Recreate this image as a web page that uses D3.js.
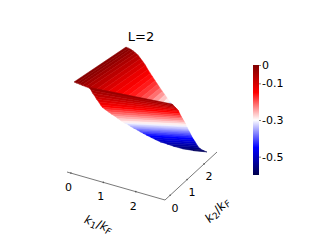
<!DOCTYPE html>
<html>
<head>
<meta charset="utf-8">
<script src="https://cdn.jsdelivr.net/npm/d3@7"></script>
<style>
  html, body { margin: 0; padding: 0; background: #fff; }
  svg { display: block; }
  text { font-family: "DejaVu Sans", sans-serif; fill: #000; }
</style>
</head>
<body>
<div id="chart"></div>
<script>
var width = 323, height = 242;

// back of the surface: stripes at constant k1, from the fold up to the far edge
var backK1 = [0, .075, .15, .225, .3, .375, .45, .525, .6, .675, .75, .825, .9, .975, 1.05, 1.125, 1.2, 1.275, 1.35, 1.425];
var backK2Start = [0, 0, .02, .04, .1, .16, .33, .5, .69, .93, 1.14, 1.33, 1.54, 1.73, 1.92, 2.1, 2.29, 2.46, 2.64, 2.75];
var backZStart = [0, -.001, -.005, -.01, -.02, -.031, -.059, -.081, -.105, -.138, -.17, -.197, -.224, -.248, -.272, -.293, -.318, -.339, -.361, -.367];
var backZEnd = [-.087, -.089, -.091, -.097, -.105, -.113, -.13, -.145, -.164, -.186, -.207, -.225, -.245, -.263, -.282, -.299, -.316, -.333, -.35, -.362];
var backValues = [-.01, -.015, -.025, -.04, -.055, -.07, -.09, -.105, -.125, -.14, -.155, -.165, -.18, -.195, -.215, -.24, -.265, -.29, -.32, -.35];

// front of the surface: bands at constant k2, from the lower edge to k1 = 2.5
var frontK2 = [.9, .97, 1.04, 1.11, 1.18, 1.24, 1.27, 1.31, 1.36, 1.41, 1.46, 1.52, 1.57, 1.62, 1.66, 1.71, 1.75, 1.8, 1.85, 1.89, 1.94, 1.99, 2.06, 2.12, 2.18, 2.24, 2.3, 2.43, 2.61, 2.75];
var frontK1Start = [-.06, -.04, -.03, 0, .01, .04, .08, .11, .17, .24, .31, .38, .44, .52, .59, .66, .72, .79, .86, .93, 1, 1.07, 1.17, 1.27, 1.39, 1.56, 1.73, 1.93, 2.15, 2.5];
var frontZStart = [-.145, -.171, -.199, -.226, -.252, -.275, -.295, -.313, -.329, -.345, -.361, -.377, -.393, -.409, -.422, -.433, -.445, -.458, -.469, -.481, -.493, -.505, -.521, -.535, -.549, -.557, -.567, -.583, -.6, -.6];
var frontZEnd = [-.065, -.081, -.099, -.116, -.133, -.149, -.161, -.177, -.195, -.212, -.229, -.248, -.265, -.282, -.299, -.316, -.333, -.35, -.367, -.383, -.401, -.419, -.439, -.458, -.478, -.497, -.516, -.544, -.577, -.6];
var frontValues = [-.03, -.05, -.07, -.09, -.11, -.13, -.15, -.17, -.19, -.21, -.23, -.25, -.27, -.29, -.31, -.33, -.35, -.37, -.39, -.41, -.43, -.45, -.47, -.49, -.51, -.53, -.55, -.57, -.59, -.6];

var k1Ticks = [0, 1, 2];
var k2Ticks = [0, 1, 2];
var barTicks = [0, -0.1, -0.3, -0.5];
var barLabels = ["0", "-0.1", "-0.3", "-0.5"];

var svg = d3.select("#chart")
    .append("svg")
        .attr("width", width)
        .attr("height", height);

// seismic colour map
var color = d3.scaleLinear()
    .domain([-0.6, -0.45, -0.3, -0.15, 0])
    .range(["#00004c", "#0000ff", "#ffffff", "#ff0000", "#7f0000"]);

// oblique projection, each data axis adds its own screen offset
var k1X = d3.scaleLinear().domain([0, 2.5]).range([0, 81]),
    k1Y = d3.scaleLinear().domain([0, 2.5]).range([0, 28]),
    k2X = d3.scaleLinear().domain([0, 2.75]).range([0, 52]),
    k2Y = d3.scaleLinear().domain([0, 2.75]).range([0, -48]),
    zY = d3.scaleLinear().domain([-0.6, 0]).range([0, -90]);

function project(p) {
    return [74 + k1X(p[0]) + k2X(p[1]), 172 + k1Y(p[0]) + k2Y(p[1]) + zY(p[2])];
}

var path = d3.line();

function drawCells(cells, cls) {
    svg.append("g").attr("class", cls)
      .selectAll("path")
      .data(cells)
    .enter().append("path")
      .attr("d", function(d) { return path(d.pts.map(project)) + "Z"; })
      .attr("fill", function(d) { return color(d.value); })
      .attr("stroke", function(d) { return color(d.value); })
      .attr("stroke-width", 0.5);
}

var backCells = d3.range(backK1.length - 1).map(function(i) {
    return {
        value: backValues[i],
        pts: [
            [backK1[i], backK2Start[i], backZStart[i]],
            [backK1[i], 2.75, backZEnd[i]],
            [backK1[i + 1], 2.75, backZEnd[i + 1]],
            [backK1[i + 1], backK2Start[i + 1], backZStart[i + 1]]
        ]
    };
});

var frontCells = d3.range(frontK2.length - 1).map(function(i) {
    return {
        value: frontValues[i],
        pts: [
            [frontK1Start[i], frontK2[i], frontZStart[i]],
            [2.5, frontK2[i], frontZEnd[i]],
            [2.5, frontK2[i + 1], frontZEnd[i + 1]],
            [frontK1Start[i + 1], frontK2[i + 1], frontZStart[i + 1]]
        ]
    };
});

drawCells(backCells, "back");
drawCells(frontCells, "front");

// floor axes
var axis1X = d3.scaleLinear().domain([-0.12, 2.9]).range([67, 165]),
    axis1Y = d3.scaleLinear().domain([-0.12, 2.9]).range([172, 200]),
    axis2X = d3.scaleLinear().domain([-0.3, 2.76]).range([165, 217]),
    axis2Y = d3.scaleLinear().domain([-0.3, 2.76]).range([200, 152]);

function drawAxis(fx, fy, ticks, labelDx, labelDy) {
    var g = svg.append("g");
    g.append("line")
      .attr("x1", fx.range()[0]).attr("y1", fy.range()[0])
      .attr("x2", fx.range()[1]).attr("y2", fy.range()[1])
      .attr("stroke", "#555").attr("stroke-width", 0.8);
    g.selectAll("circle")
      .data(ticks)
    .enter().append("circle")
      .attr("cx", function(d) { return fx(d); })
      .attr("cy", function(d) { return fy(d); })
      .attr("r", 0.8)
      .attr("fill", "#555");
    g.selectAll("text")
      .data(ticks)
    .enter().append("text")
      .attr("x", function(d) { return fx(d) + labelDx; })
      .attr("y", function(d) { return fy(d) + labelDy; })
      .attr("text-anchor", "middle")
      .attr("font-size", 11)
      .text(function(d) { return d; });
}

drawAxis(axis1X, axis1Y, k1Ticks, -2.5, 18);
drawAxis(axis2X, axis2Y, k2Ticks, 5, 16.5);

function axisTitle(x, y, angle, sub) {
    var t = svg.append("text")
        .attr("transform", "translate(" + x + "," + y + ") rotate(" + angle + ")")
        .attr("text-anchor", "middle")
        .attr("font-size", 12);
    t.append("tspan").attr("font-style", "italic").text("k");
    t.append("tspan").attr("font-size", 9).attr("dy", 2).text(sub);
    t.append("tspan").attr("dy", -2).text("/");
    t.append("tspan").attr("font-style", "italic").text("k");
    t.append("tspan").attr("font-style", "italic").attr("font-size", 9).attr("dy", 2).text("F");
}

axisTitle(97, 228, 22, "1");
axisTitle(220, 213, -45, "2");

svg.append("text")
    .attr("x", 141)
    .attr("y", 40.5)
    .attr("text-anchor", "middle")
    .attr("font-size", 13)
    .text("L=2");

// colour bar
var barY = d3.scaleLinear().domain([0, -0.6]).range([65, 175]);

var grad = svg.append("defs").append("linearGradient")
    .attr("id", "bar-grad")
    .attr("x1", 0).attr("y1", 0).attr("x2", 0).attr("y2", 1);

grad.selectAll("stop")
    .data(color.domain().slice().reverse())
  .enter().append("stop")
    .attr("offset", function(d) { return d / -0.6; })
    .attr("stop-color", function(d) { return color(d); });

svg.append("rect")
    .attr("x", 253)
    .attr("y", barY(0))
    .attr("width", 6)
    .attr("height", barY(-0.6) - barY(0))
    .attr("fill", "url(#bar-grad)");

var barAxis = svg.append("g")
    .attr("transform", "translate(259,0)")
    .call(d3.axisRight(barY)
        .tickValues(barTicks)
        .tickSize(2)
        .tickPadding(1)
        .tickFormat(function(d, i) { return barLabels[i]; }));

barAxis.select(".domain").remove();
barAxis.selectAll("line").attr("stroke", "#333").attr("stroke-width", 0.6);
barAxis.selectAll("text")
    .attr("font-size", 11)
    .attr("font-family", "DejaVu Sans");
</script>
</body>
</html>
